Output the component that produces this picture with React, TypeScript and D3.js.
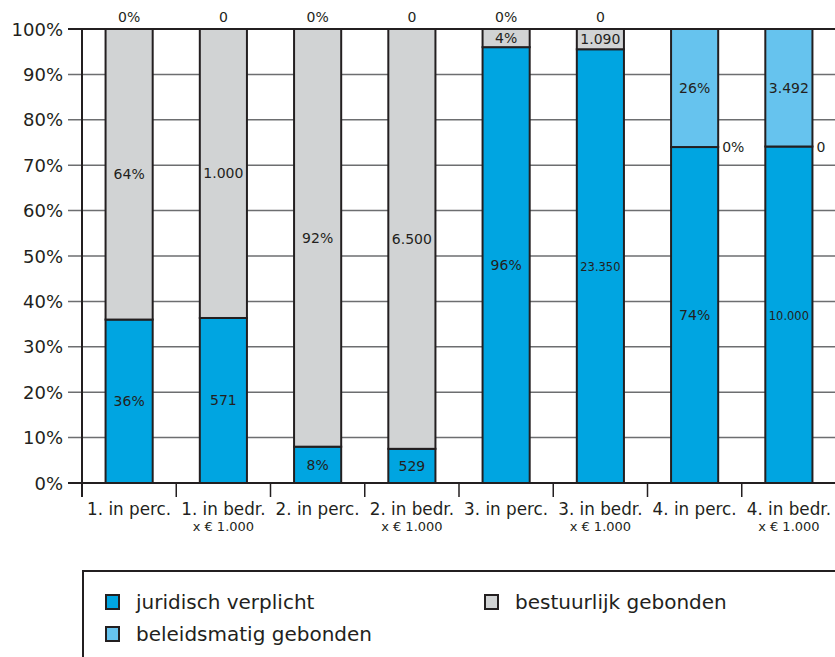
import React from "react";
import * as d3 from "d3";

const categories = ["1. in perc.", "1. in bedr.", "2. in perc.", "2. in bedr.", "3. in perc.", "3. in bedr.", "4. in perc.", "4. in bedr."];
const subLabels = ["", "x € 1.000", "", "x € 1.000", "", "x € 1.000", "", "x € 1.000"];
const isPercent = [true, false, true, false, true, false, true, false];
const juridisch = [36, 571, 8, 529, 96, 23350, 74, 10000];
const bestuurlijk = [64, 1000, 92, 6500, 4, 1090, 0, 0];
const beleidsmatig = [0, 0, 0, 0, 0, 0, 26, 3492];
const yTicks = [0, 10, 20, 30, 40, 50, 60, 70, 80, 90, 100];

const seriesNames = ["juridisch verplicht", "bestuurlijk gebonden", "beleidsmatig gebonden"];
const seriesValues = [juridisch, bestuurlijk, beleidsmatig];
const colors = ["#00a5e1", "#d1d3d4", "#66c3ee"];
const ink = "#231f20";
const FONT = "'DejaVu Sans', sans-serif";

const nl = d3.formatLocale({ decimal: ",", thousands: ".", grouping: [3], currency: ["€", ""] });
const fmt = nl.format(",d");

export default function App() {
  const W = 835, H = 657;
  const left = 82, right = 836, top = 29, bottom = 483;
  const x = d3.scaleBand<string>().domain(categories).range([left, right]).paddingInner(0.5).paddingOuter(0.25);
  const y = d3.scaleLinear().domain([0, 100]).range([bottom, top]);
  const step = x.step();
  const bw = x.bandwidth();

  const bars = categories.map((c, i) => {
    const total = seriesValues.reduce((s, arr) => s + arr[i], 0);
    let cum = 0;
    return seriesValues.map((arr, k) => {
      const v = arr[i];
      const p0 = cum;
      const p1 = cum + (v / total) * 100;
      cum = p1;
      return { c, i, k, v, p0, p1 };
    });
  });

  const labelW = (s: string, fs: number) => {
    let w = 0;
    for (const ch of s) w += ch === "." ? 0.318 : ch === "%" ? 0.95 : 0.636;
    return w * fs;
  };

  return (
    <svg width={W} height={H} style={{ position: "absolute", left: 0, top: 0, background: "#fff" }} fontFamily={FONT}>
      {/* gridlines */}
      {yTicks.map((t) => (
        <line key={"g" + t} x1={68} x2={W} y1={y(t)} y2={y(t)} stroke={t === 0 || t === 100 ? ink : "#6d6e70"} strokeWidth={t === 0 || t === 100 ? 2 : 1.5} />
      ))}
      {/* left border */}
      <line x1={left} x2={left} y1={top} y2={bottom + 14} stroke={ink} strokeWidth={2} />
      {/* x ticks */}
      {categories.map((c, i) => (
        <line key={"xt" + i} x1={left + i * step} x2={left + i * step} y1={bottom} y2={bottom + 14} stroke={ink} strokeWidth={1.5} />
      ))}
      {/* y labels */}
      {yTicks.map((t) => (
        <text key={"yl" + t} x={63} y={y(t) + 6.5} textAnchor="end" fontSize={18} fill={ink}>{t}%</text>
      ))}
      {/* bars */}
      {bars.map((segs) =>
        segs.map((s) =>
          s.v > 0 ? (
            <rect key={`b${s.i}-${s.k}`} x={x(s.c)!} y={y(s.p1)} width={bw} height={y(s.p0) - y(s.p1)} fill={colors[s.k]} stroke={ink} strokeWidth={2} />
          ) : null
        )
      )}
      {/* bar labels */}
      {bars.map((segs) =>
        segs.map((s) => {
          const txt = isPercent[s.i] ? `${s.v}%` : fmt(s.v);
          const cx = x(s.c)! + bw / 2;
          const fs = 14;
          if (s.v === 0) {
            if (s.p1 >= 99.999) {
              return <text key={`l${s.i}-${s.k}`} x={cx} y={y(100) - 7} textAnchor="middle" fontSize={fs} fill={ink}>{txt}</text>;
            }
            return <text key={`l${s.i}-${s.k}`} x={x(s.c)! + bw + 4} y={y(s.p1) + 5} fontSize={fs} fill={ink}>{txt}</text>;
          }
          const cy = (y(s.p0) + y(s.p1)) / 2 + 5;
          const w = labelW(txt, fs);
          const fit = w > bw - 4;
          return (
            <text key={`l${s.i}-${s.k}`} x={cx} y={cy} textAnchor="middle" fontSize={fit ? 13 : fs} fill={ink}
              {...(fit ? { textLength: bw - 7, lengthAdjust: "spacingAndGlyphs" } : {})}>{txt}</text>
          );
        })
      )}
      {/* x labels */}
      {categories.map((c, i) => (
        <g key={"xl" + i}>
          <text x={x(c)! + bw / 2} y={515} textAnchor="middle" fontSize={16.8} fill={ink}>{c}</text>
          {subLabels[i] ? <text x={x(c)! + bw / 2} y={531} textAnchor="middle" fontSize={13} fill={ink}>{subLabels[i]}</text> : null}
        </g>
      ))}
      {/* legend */}
      <rect x={83} y={571} width={800} height={120} fill="none" stroke={ink} strokeWidth={2} />
      {[
        { k: 0, lx: 106, ly: 595 },
        { k: 2, lx: 106, ly: 627 },
        { k: 1, lx: 485, ly: 595 },
      ].map(({ k, lx, ly }) => (
        <g key={"lg" + k}>
          <rect x={lx} y={ly} width={13} height={14} fill={colors[k]} stroke={ink} strokeWidth={2} />
          <text x={lx + 30} y={ly + 14} fontSize={20} fill={ink}>{seriesNames[k]}</text>
        </g>
      ))}
    </svg>
  );
}
